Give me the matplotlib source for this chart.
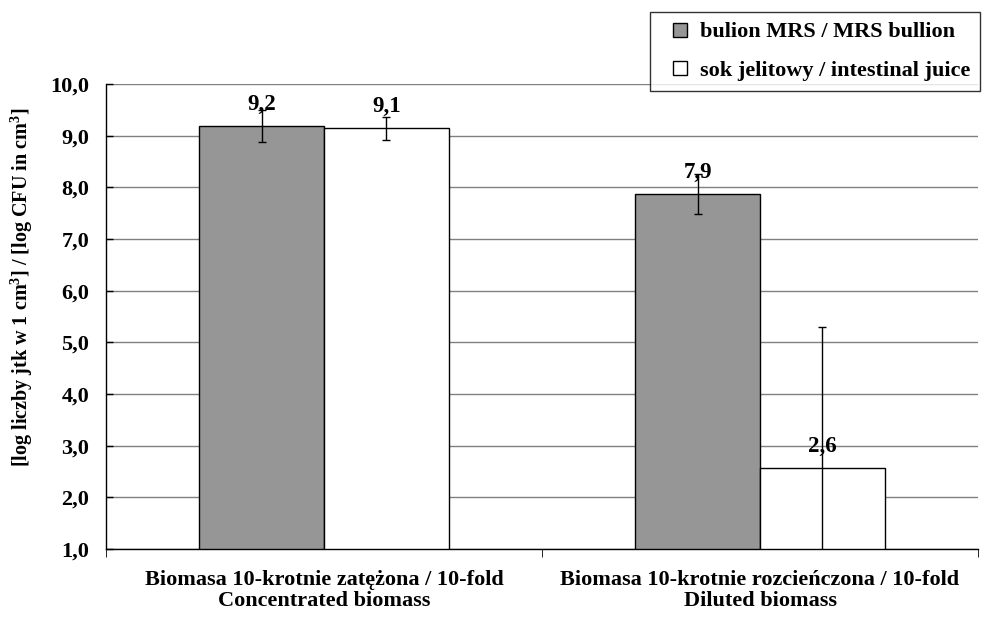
import matplotlib
matplotlib.use("Agg")
import matplotlib.pyplot as plt
from matplotlib.lines import Line2D
import numpy as np

plt.rcParams["font.family"] = ["Liberation Serif", "DejaVu Serif"]
plt.rcParams["font.weight"] = "bold"
plt.rcParams["mathtext.fontset"] = "custom"
plt.rcParams["mathtext.rm"] = "Liberation Serif:bold"
plt.rcParams["mathtext.bf"] = "Liberation Serif:bold"

categories = ["Biomasa 10-krotnie zatężona / 10-fold\nConcentrated biomass",
              "Biomasa 10-krotnie rozcieńczona / 10-fold\nDiluted biomass"]
series_names = ["bulion MRS / MRS bullion", "sok jelitowy / intestinal juice"]
mrs = [9.18, 7.87]
mrs_err = [0.31, 0.38]
juice = [9.14, 2.57]
juice_err = [0.23, 2.72]
labels_mrs = ["9,2", "7,9"]
labels_juice = ["9,1", "2,6"]

fig = plt.figure(figsize=(9.89, 6.22), dpi=100)
ax = fig.add_axes([0.1072, 0.1174, 0.8817, 0.7476])

x = np.arange(len(categories))
w = 0.286
ax.bar(x - w / 2, mrs, w, color="#969696", edgecolor="black", linewidth=1, zorder=2)
ax.bar(x + w / 2, juice, w, color="white", edgecolor="black", linewidth=1, zorder=2)
ax.errorbar(x - w / 2, mrs, yerr=mrs_err, fmt="none", ecolor="black",
            elinewidth=1, capsize=3, capthick=1, zorder=4)
ax.errorbar(x + w / 2, juice, yerr=juice_err, fmt="none", ecolor="black",
            elinewidth=1, capsize=3, capthick=1, zorder=4)

for xi, v, t in zip(x - w / 2, mrs, labels_mrs):
    ax.annotate(t, (xi, v), xytext=(0, 8), textcoords="offset points",
                ha="center", va="bottom", fontsize=16.5, fontweight="bold", zorder=3)
for xi, v, t in zip(x + w / 2, juice, labels_juice):
    ax.annotate(t, (xi, v), xytext=(0, 8), textcoords="offset points",
                ha="center", va="bottom", fontsize=16.5, fontweight="bold", zorder=3)

ax.set_ylim(1, 10)
ax.set_xlim(-0.5, 1.5)
yt = np.arange(1, 11)
ax.set_yticks(yt)
ax.set_yticklabels([f"{v:.1f}".replace(".", ",") for v in yt], fontsize=16,
                   fontweight="bold")
ax.yaxis.grid(True, color="#808080", linewidth=1, zorder=0)
ax.set_axisbelow(True)

ax.set_xticks(x)
ax.set_xticklabels(categories, fontsize=16, fontweight="bold", linespacing=1.05)
ax.tick_params(axis="x", length=0, pad=15)
ax.set_xticks([-0.5, 0.5, 1.5], minor=True)
ax.tick_params(axis="x", which="minor", length=6, direction="out")
ax.tick_params(axis="y", length=5, direction="in", width=1, pad=12)

ax.spines["top"].set_visible(False)
ax.spines["right"].set_visible(False)
ax.spines["left"].set_linewidth(1)
ax.spines["bottom"].set_linewidth(1)

ax.set_ylabel("[log liczby jtk w 1 cm$^\\mathbf{3}$] / [log CFU in cm$^\\mathbf{3}$]",
              fontsize=14.5, fontweight="bold")
ax.yaxis.set_label_coords(-0.082, 0.563)

handles = [Line2D([], [], linestyle="none", marker="s", markersize=10,
                  markerfacecolor=c, markeredgecolor="black", markeredgewidth=1)
           for c in ["#969696", "white"]]
leg = fig.legend(handles=handles, labels=series_names, loc="upper left",
                 bbox_to_anchor=(0.657, 0.981), fontsize=16, frameon=True,
                 fancybox=False, handlelength=1.8, handletextpad=0.0,
                 borderpad=0.45, labelspacing=0.8, borderaxespad=0)
leg.get_frame().set_edgecolor("black")
leg.get_frame().set_linewidth(1)
for t in leg.get_texts():
    t.set_fontweight("bold")

fig.savefig("out.png", dpi=100, facecolor="white")
